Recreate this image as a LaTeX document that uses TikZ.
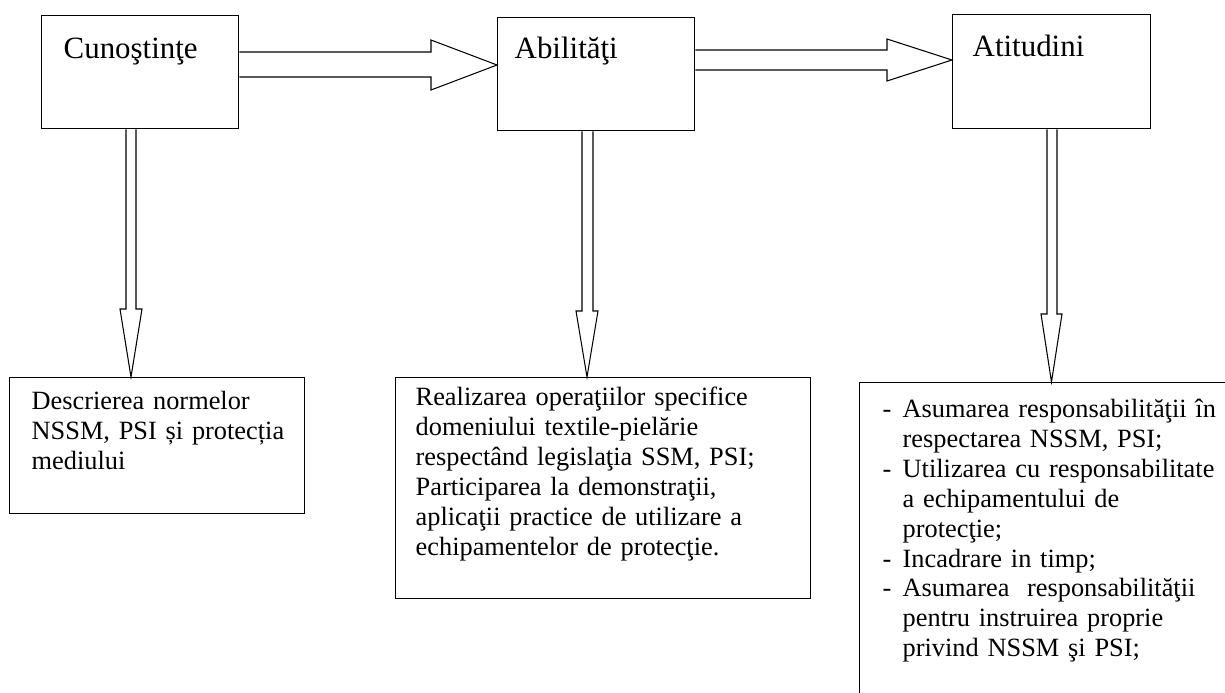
\documentclass[tikz,border=0pt]{standalone}
\usepackage{fontspec}
\setmainfont{Liberation Serif}
\tikzset{
    titlebox/.style = {rectangle, draw=black, line width=0.8pt, anchor=north west, align=left, inner ysep=0pt, font=\fontsize{17.6pt}{20pt}\selectfont},
    bodybox/.style = {rectangle, draw=black, line width=0.8pt, anchor=north west, align=left, inner ysep=0pt, font=\fontsize{15pt}{17pt}\selectfont},
    blockarrow/.style = {draw=black, line width=0.6pt, line join=miter},
}

\begin{document}
\begin{tikzpicture}[x=0.02cm, y=-0.02cm]
\useasboundingbox (0,0) rectangle (1225,693);
\clip (0,0) rectangle (1225,693);
%
\node[titlebox, inner xsep=0.44cm, text width=3.06cm, text height=0.86cm, text depth=1.4cm] at (41,15) (cun) {Cunoştinţe};
\node[titlebox, inner xsep=0.34cm, text width=3.26cm, text height=0.82cm, text depth=1.44cm] at (497,17) (abi) {Abilităţi};
\node[titlebox, inner xsep=0.4cm, text width=3.16cm, text height=0.84cm, text depth=1.44cm] at (952,14) (ati) {Atitudini};
%
\node[bodybox, inner xsep=0.44cm, text width=5.02cm, text height=0.64cm, text depth=2.08cm] at (9,377) (desc)
    {Descrierea normelor\\\mbox{NSSM, PSI și protecția}\\mediului};
\node[bodybox, inner xsep=0.4cm, text width=7.5cm, text height=0.56cm, text depth=3.86cm] at (395,377) (real)
    {Realizarea operaţiilor specifice\\domeniului textile-pielărie\\respectând legislaţia SSM, PSI;\\Participarea la demonstraţii,\\aplicaţii practice de utilizare a\\echipamentelor de protecţie.};
\node[bodybox, inner xsep=0.46cm, text width=7.48cm, text height=0.7cm, text depth=6cm] at (859,382) (asum)
    {\makebox[0.4cm][l]{-}Asumarea responsabilităţii în\\
     \hspace*{0.4cm}respectarea NSSM, PSI;\\
     \makebox[0.4cm][l]{-}Utilizarea cu responsabilitate\\
     \hspace*{0.4cm}a echipamentului de\\
     \hspace*{0.4cm}protecţie;\\
     \makebox[0.4cm][l]{-}Incadrare in timp;\\
     \makebox[0.4cm][l]{-}Asumarea\ \ responsabilităţii\\
     \hspace*{0.4cm}pentru instruirea proprie\\
     \hspace*{0.4cm}privind NSSM şi PSI;};
%
\draw[blockarrow] (cun.east |- 0,52) -- (431,52) -- (431,40) -- (abi.west |- 0,65) -- (431,90) -- (431,77) -- (cun.east |- 0,77);
\draw[blockarrow] (abi.east |- 0,50) -- (887,50) -- (887,39) -- (ati.west |- 0,60) -- (887,81) -- (887,70) -- (abi.east |- 0,70);
%
\draw[blockarrow] (cun.south -| 126,0) -- (126,309) -- (120,309) -- (desc.north -| 131,0) -- (142,309) -- (136,309) -- (cun.south -| 136,0);
\draw[blockarrow] (abi.south -| 582,0) -- (582,311) -- (576,311) -- (real.north -| 587,0) -- (598,311) -- (593,311) -- (abi.south -| 593,0);
\draw[blockarrow] (ati.south -| 1047,0) -- (1047,314) -- (1041,314) -- (asum.north -| 1051.5,0) -- (1062,314) -- (1057,314) -- (ati.south -| 1057,0);

\end{tikzpicture}
\end{document}
